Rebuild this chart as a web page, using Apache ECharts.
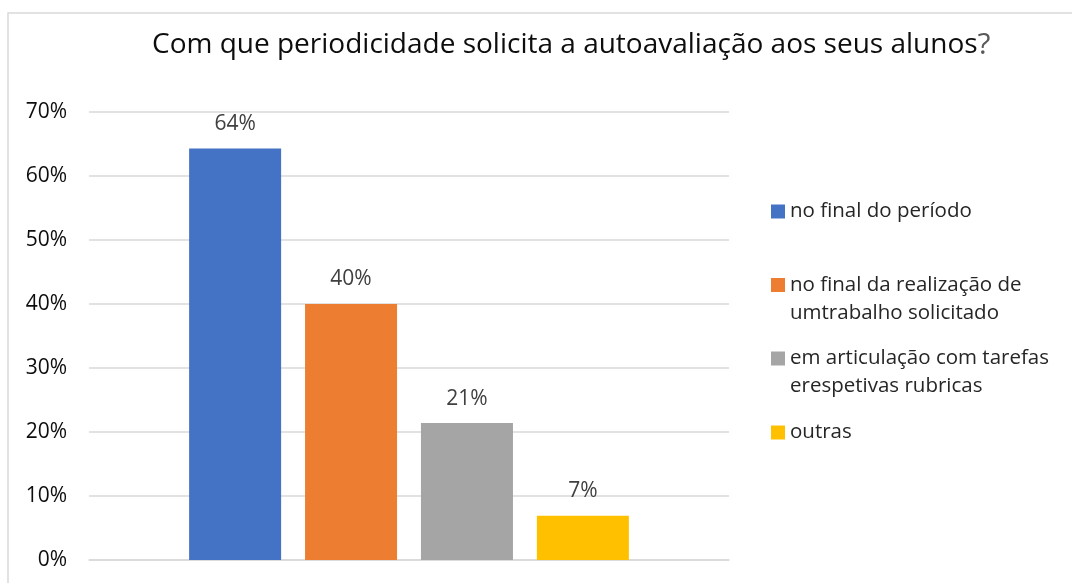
<!DOCTYPE html>
<html>
<head>
<meta charset="utf-8">
<script src="https://cdn.jsdelivr.net/npm/echarts@6/dist/echarts.min.js"></script>
<style>
html,body{margin:0;padding:0;background:#fff;}
#chart{width:1072px;height:583px;}
</style>
</head>
<body>
<div id="chart"></div>
<script>
const titleText = 'Com que periodicidade solicita a autoavaliação aos seus alunos';
const categories = [''];
const seriesNames = [
  'no final do período',
  'no final da realização de umtrabalho solicitado',
  'em articulação com tarefas erespetivas rubricas',
  'outras'
];
const legendLabels = [
  'no final do período',
  'no final da realização de\numtrabalho solicitado',
  'em articulação com tarefas\nerespetivas rubricas',
  'outras'
];
const seriesValues = [64.3, 40.0, 21.4, 6.9];
const colors = ['#4472C4', '#ED7D31', '#A5A5A5', '#FFC000'];
const yTicks = [0, 10, 20, 30, 40, 50, 60, 70];

const FONT = '"Open Sans", sans-serif';
const LH = 28;
const legendCenters = [211.5, 285, 358.5, 432.5];

const chart = echarts.init(document.getElementById('chart'));

const legends = seriesNames.map((name, i) => {
  const lines = legendLabels[i].split('\n').length;
  // pad with empty lines above so that the first line sits on the icon
  const text = lines > 1 ? ' \n'.repeat(lines - 1) + legendLabels[i] : legendLabels[i];
  const boxH = LH * (2 * lines - 1);
  return {
    data: [name],
    left: 771,
    top: legendCenters[i] - boxH / 2,
    padding: 0,
    orient: 'vertical',
    itemWidth: 14,
    itemHeight: 14,
    icon: 'rect',
    selectedMode: false,
    formatter: () => text,
    textStyle: {
      fontFamily: FONT,
      fontSize: 20.5,
      color: '#262626',
      lineHeight: LH
    }
  };
});

const option = {
  animation: false,
  backgroundColor: '#fff',
  color: colors,
  graphic: [{
    type: 'rect',
    shape: { x: 8, y: 13, width: 1200, height: 700 },
    style: { fill: 'none', stroke: '#d9d9d9', lineWidth: 1.5 },
    silent: true
  }],
  title: {
    text: '{a|' + titleText + '}{b|?}',
    left: 152,
    top: 27,
    padding: 0,
    textStyle: {
      rich: {
        a: { fontFamily: FONT, fontSize: 28, fontWeight: 'normal', color: '#0d0d0d', lineHeight: 36 },
        b: { fontFamily: FONT, fontSize: 30, fontWeight: 'normal', color: '#595959', lineHeight: 36 }
      }
    }
  },
  legend: legends,
  grid: { left: 89, right: 343, top: 112, bottom: 23, containLabel: false },
  xAxis: {
    type: 'category',
    data: categories,
    axisLine: { show: true, lineStyle: { color: '#d9d9d9', width: 1.5 } },
    axisTick: { show: false },
    axisLabel: { show: false }
  },
  yAxis: {
    type: 'value',
    min: yTicks[0],
    max: yTicks[yTicks.length - 1],
    interval: 10,
    axisLine: { show: false },
    axisTick: { show: false },
    splitLine: { lineStyle: { color: '#d9d9d9', width: 1.5 } },
    axisLabel: {
      formatter: '{value}%',
      fontFamily: FONT,
      fontSize: 21,
      color: '#0d0d0d',
      margin: 22
    }
  },
  series: seriesNames.map((name, i) => ({
    name: name,
    type: 'bar',
    data: [seriesValues[i]],
    barWidth: 92,
    barGap: '26%',
    itemStyle: { color: colors[i] },
    label: {
      show: true,
      position: 'top',
      distance: 14,
      formatter: p => Math.round(p.value) + '%',
      fontFamily: FONT,
      fontSize: 21,
      color: '#404040'
    }
  }))
};

chart.setOption(option);
</script>
</body>
</html>
